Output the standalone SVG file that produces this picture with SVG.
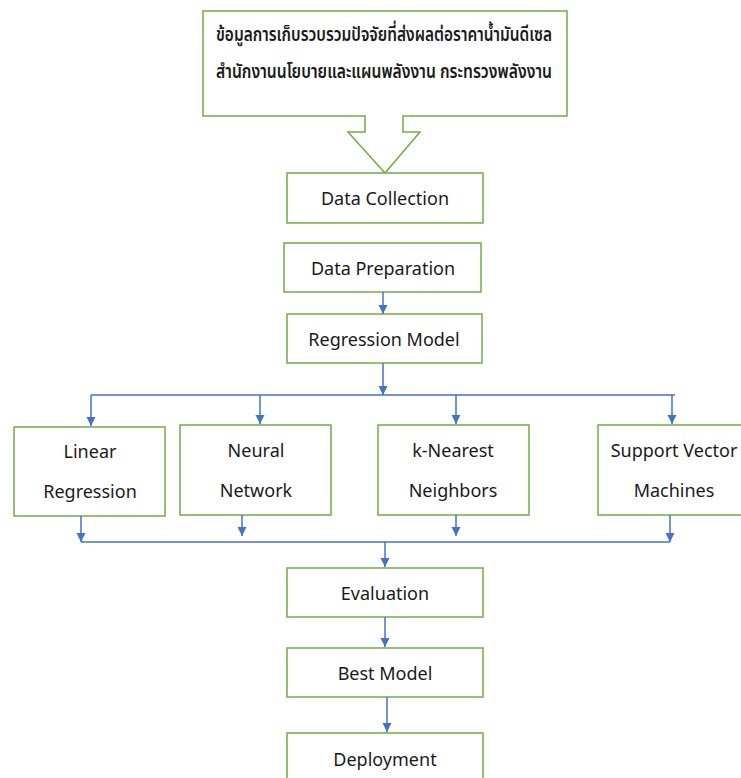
<svg xmlns="http://www.w3.org/2000/svg" width="741" height="778" viewBox="0 0 741 778">
<style>
.box{fill:#fff;stroke:#70AD47;stroke-width:1.5}
.t{font-family:"Noto Sans","Open Sans","Noto Sans Thai",Tahoma,sans-serif;font-size:18px;fill:#1a1a1a;text-anchor:middle;dominant-baseline:central}
.th{font-family:"Noto Sans Thai","Noto Sans","Noto Sans Thai Looped",Tahoma,sans-serif;font-size:19px;font-weight:600;fill:#1a1a1a;text-anchor:middle;dominant-baseline:central}
.c{fill:none;stroke:#4472C4;stroke-width:1.5}
</style>
<defs>
<marker id="ah" markerWidth="10" markerHeight="10" refX="9" refY="5" orient="auto" markerUnits="userSpaceOnUse">
<path d="M0,0.5 L9,5 L0,9.5 Z" fill="#4472C4"/>
</marker>
</defs>
<rect width="741" height="778" fill="#fff"/>
<g id="source">
<path class="box" d="M203,11 H567 V116 H403 V132 H420 L385,173 L348,132 H365 V116 H203 Z"/>
<text class="th" x="384" y="35" textLength="336" lengthAdjust="spacingAndGlyphs">ข้อมูลการเก็บรวบรวมปัจจัยที่ส่งผลต่อราคาน้ำมันดีเซล</text>
<text class="th" x="384" y="72" textLength="336" lengthAdjust="spacingAndGlyphs">สำนักงานนโยบายและแผนพลังงาน กระทรวงพลังงาน</text>
</g>
<g id="data-collection">
<rect class="box" x="287" y="173" width="196" height="50"/>
<text class="t" x="385" y="198">Data Collection</text>
</g>
<g id="data-preparation">
<rect class="box" x="284" y="243" width="197" height="49"/>
<text class="t" x="383" y="268">Data Preparation</text>
</g>
<g id="regression-model">
<rect class="box" x="287" y="314" width="195" height="49"/>
<text class="t" x="384" y="339">Regression Model</text>
</g>
<g id="linear-regression">
<rect class="box" x="14" y="427" width="151" height="89"/>
<text class="t" x="90" y="451">Linear</text>
<text class="t" x="90" y="491">Regression</text>
</g>
<g id="neural-network">
<rect class="box" x="180" y="425" width="151" height="90"/>
<text class="t" x="256" y="450">Neural</text>
<text class="t" x="256" y="490">Network</text>
</g>
<g id="knn">
<rect class="box" x="378" y="425" width="151" height="90"/>
<text class="t" x="453" y="450">k-Nearest</text>
<text class="t" x="453" y="490">Neighbors</text>
</g>
<g id="svm">
<rect class="box" x="598" y="425" width="160" height="90"/>
<text class="t" x="674" y="450">Support Vector</text>
<text class="t" x="674" y="490">Machines</text>
</g>
<g id="evaluation">
<rect class="box" x="287" y="568" width="196" height="49"/>
<text class="t" x="385" y="593">Evaluation</text>
</g>
<g id="best-model">
<rect class="box" x="287" y="648" width="196" height="49"/>
<text class="t" x="385" y="673">Best Model</text>
</g>
<g id="deployment">
<rect class="box" x="287" y="733" width="196" height="60"/>
<text class="t" x="385" y="759">Deployment</text>
</g>
<g id="connectors">
<path class="c" d="M383,292 V314" marker-end="url(#ah)"/>
<path class="c" d="M383,363 V395" marker-end="url(#ah)"/>
<path class="c" d="M91,395 H675"/>
<path class="c" d="M91,395 V426" marker-end="url(#ah)"/>
<path class="c" d="M260,395 V424" marker-end="url(#ah)"/>
<path class="c" d="M456,395 V424" marker-end="url(#ah)"/>
<path class="c" d="M672,395 V424" marker-end="url(#ah)"/>
<path class="c" d="M81,516 V542" marker-end="url(#ah)"/>
<path class="c" d="M242,515 V536" marker-end="url(#ah)"/>
<path class="c" d="M456,515 V536" marker-end="url(#ah)"/>
<path class="c" d="M670,515 V542" marker-end="url(#ah)"/>
<path class="c" d="M81,542 H670"/>
<path class="c" d="M385,542 V567" marker-end="url(#ah)"/>
<path class="c" d="M385,617 V647" marker-end="url(#ah)"/>
<path class="c" d="M387,697 V732" marker-end="url(#ah)"/>
</g>
</svg>
